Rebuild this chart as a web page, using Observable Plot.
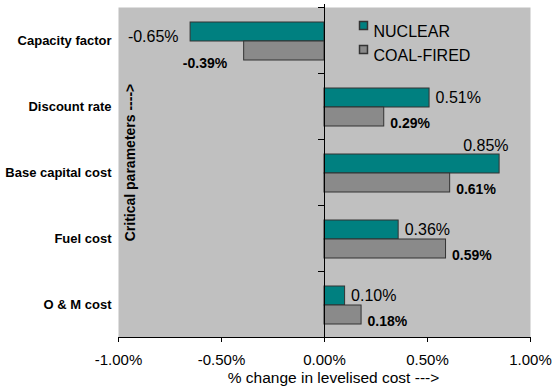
<!DOCTYPE html>
<html>
<head>
<meta charset="utf-8">
<script src="https://cdn.jsdelivr.net/npm/d3@7"></script>
<script src="https://cdn.jsdelivr.net/npm/@observablehq/plot@0.6"></script>
<style>
  html, body { margin: 0; padding: 0; background: #fff; }
  #chart { width: 553px; height: 389px; }
</style>
</head>
<body>
<div id="chart"></div>
<script>
// Sensitivity of levelised cost to critical parameters (% change)
const categories = ["Capacity factor", "Discount rate", "Base capital cost", "Fuel cost", "O & M cost"];
const seriesNames = ["NUCLEAR", "COAL-FIRED"];
const nuclear = [-0.65, 0.51, 0.85, 0.36, 0.10];
const coal = [-0.39, 0.29, 0.61, 0.59, 0.18];
const xTicks = [-1, -0.5, 0, 0.5, 1];

const rows = [
  ...categories.map((c, i) => ({category: c, series: seriesNames[0], value: nuclear[i]})),
  ...categories.map((c, i) => ({category: c, series: seriesNames[1], value: coal[i]}))
];

const FONT = "'Liberation Sans', Arial, Helvetica, sans-serif";
const TEAL = "#008080";
const GREY = "#8a8a8a";
const EDGE = "#333";
const pct = v => v.toFixed(2) + "%";
const isN = d => d.series === seriesNames[0];
const isC = d => d.series === seriesNames[1];

const chart = Plot.plot({
  width: 553,
  height: 389,
  marginLeft: 118,
  marginRight: 23,
  marginTop: 7,
  marginBottom: 52,
  style: {fontFamily: FONT, fontSize: "13px", color: "#000", background: "#fff", overflow: "visible"},
  x: {domain: [-1, 1]},
  y: {domain: categories, padding: 0},
  marks: [
    Plot.frame({fill: "#c0c0c0"}),
    // grouped bars: nuclear on top, coal-fired below within each band
    Plot.barX(rows.filter(isN), {x: "value", y: "category", fill: TEAL, stroke: EDGE, strokeWidth: 1, insetTop: 15, insetBottom: 32}),
    Plot.barX(rows.filter(isC), {x: "value", y: "category", fill: GREY, stroke: EDGE, strokeWidth: 1, insetTop: 34, insetBottom: 13}),
    // zero line with category separator ticks
    Plot.ruleX([0], {stroke: "#000", insetTop: -3}),
    Plot.ruleY(categories, {y: d => d, x1: () => 0, x2: () => 0, insetLeft: -6, dy: -33, stroke: "#000"}),
    Plot.frame({anchor: "bottom", stroke: "#000"}),
    Plot.axisX({ticks: xTicks, tickFormat: pct, tickSize: 5, tickPadding: 12, fontSize: 15, label: null}),
    Plot.axisY({tickSize: 0, tickPadding: 7, fontWeight: "bold", fontSize: 13, label: null}),
    // value labels, nuclear
    Plot.text(rows.filter(d => isN(d) && d.value > 0 && d.value < 0.8), {x: "value", y: "category", text: d => pct(d.value), textAnchor: "start", dx: 6, dy: -9, fontSize: 16}),
    Plot.text(rows.filter(d => isN(d) && d.value >= 0.8), {x: "value", y: "category", text: d => pct(d.value), textAnchor: "end", dx: 9, dy: -27, fontSize: 16}),
    Plot.text(rows.filter(d => isN(d) && d.value < 0), {x: "value", y: "category", text: d => pct(d.value), textAnchor: "end", dx: -12, dy: -4, fontSize: 16}),
    // value labels, coal-fired
    Plot.text(rows.filter(d => isC(d) && d.value > 0), {x: "value", y: "category", text: d => pct(d.value), textAnchor: "start", dx: 6, dy: 17, fontSize: 14, fontWeight: "bold"}),
    Plot.text(rows.filter(d => isC(d) && d.value < 0), {x: "value", y: "category", text: d => pct(d.value), textAnchor: "end", dx: -17, dy: 23, fontSize: 14, fontWeight: "bold"}),
    // legend
    Plot.dot([seriesNames[0]], {frameAnchor: "top-left", dx: 245, dy: 18, symbol: "square", r: 4.5, fill: TEAL, stroke: EDGE}),
    Plot.text([seriesNames[0]], {frameAnchor: "top-left", dx: 255, dy: 18, text: d => d, textAnchor: "start", fontSize: 16}),
    Plot.dot([seriesNames[1]], {frameAnchor: "top-left", dx: 245, dy: 42, symbol: "square", r: 4.5, fill: GREY, stroke: EDGE}),
    Plot.text([seriesNames[1]], {frameAnchor: "top-left", dx: 255, dy: 42, text: d => d, textAnchor: "start", fontSize: 16}),
    // axis titles
    Plot.text(["Critical parameters ---->"], {frameAnchor: "left", rotate: -90, dx: 12, dy: -10, text: d => d, textAnchor: "middle", fontWeight: "bold", fontSize: 14}),
    Plot.text(["% change in levelised cost --->"], {frameAnchor: "bottom", dx: 9, dy: 45, text: d => d, fontSize: 15.5})
  ]
});

document.getElementById("chart").appendChild(chart);
</script>
</body>
</html>
